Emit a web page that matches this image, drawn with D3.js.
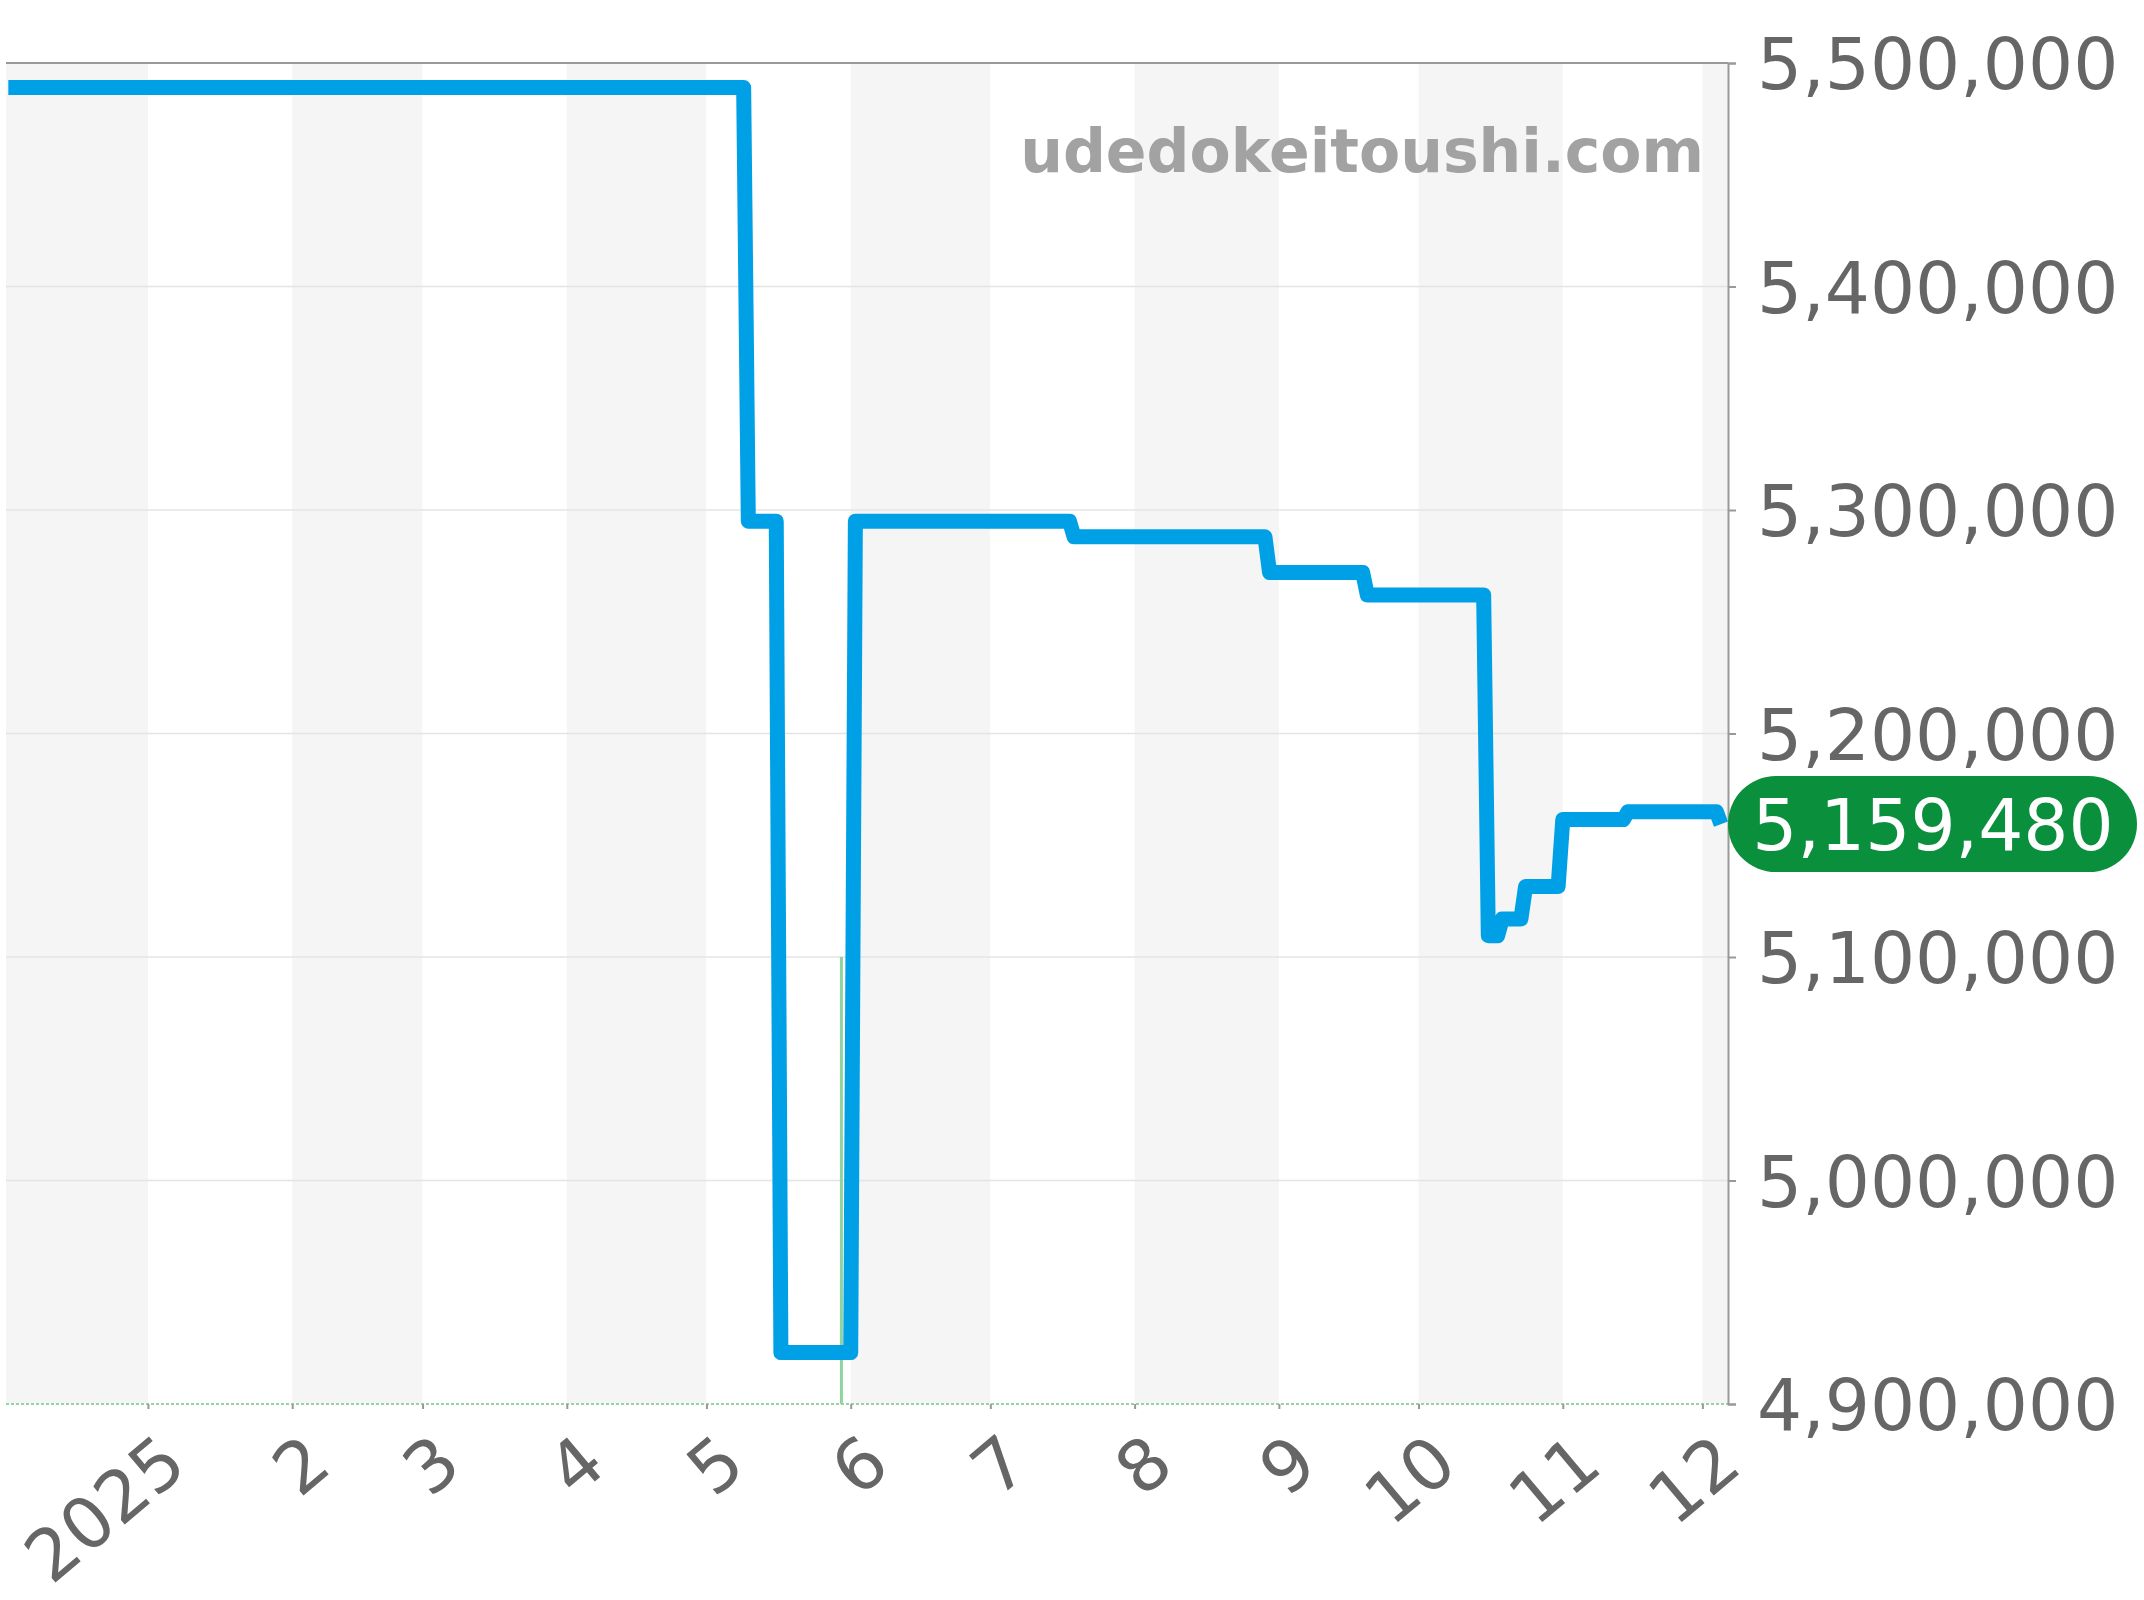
<!DOCTYPE html>
<html>
<head>
<meta charset="utf-8">
<script src="https://cdn.jsdelivr.net/npm/d3@7"></script>
<style>
  body { margin: 0; background: #fff; }
  svg { display: block; font-family: "DejaVu Sans", sans-serif; }
</style>
</head>
<body>
<svg width="2144" height="1600"></svg>
<script>
// price change points (date, yen)
var priceDates = [
    "2024-12-02", "2025-05-09", "2025-05-10", "2025-05-16", "2025-05-17",
    "2025-06-01", "2025-06-02", "2025-07-18", "2025-07-19", "2025-08-29",
    "2025-08-30", "2025-09-19", "2025-09-20", "2025-10-15", "2025-10-16",
    "2025-10-18", "2025-10-19", "2025-10-23", "2025-10-24", "2025-10-31",
    "2025-11-01", "2025-11-14", "2025-11-15", "2025-12-04", "2025-12-05"
];
var priceValues = [
    5489000, 5489000, 5295000, 5295000, 4923000,
    4923000, 5295000, 5295000, 5288000, 5288000,
    5272000, 5272000, 5262000, 5262000, 5109500,
    5109500, 5117000, 5117000, 5131500, 5131500,
    5161500, 5161500, 5165000, 5165000, 5159480
];
// green series: one spike, rest sits on the floor
var greenSpikeDate = "2025-05-30";
var greenSpikeValue = 5100000;

var yTicks = [4900000, 5000000, 5100000, 5200000, 5300000, 5400000, 5500000];
var xDomain = ["2024-12-01T12:00", "2025-12-06T12:00"];
var yDomain = [4900000, 5500000];
var watermark = "udedokeitoushi.com";

var parse = function(s) { return new Date(s.length > 10 ? s : s + "T00:00"); };

var margin = {left: 6, right: 1728, top: 63, bottom: 1404};
var svg = d3.select("svg");

var x = d3.scaleTime()
    .domain(xDomain.map(parse))
    .range([margin.left, margin.right]);
var y = d3.scaleLinear()
    .domain(yDomain)
    .range([margin.bottom, margin.top]);

var FONT = 71;

svg.append("rect").attr("width", 2144).attr("height", 1600).attr("fill", "#fff");

// month bands, every other month shaded
var months = d3.timeMonth.range(d3.timeMonth.floor(x.domain()[0]), x.domain()[1]);
svg.append("g").selectAll("rect")
    .data(months)
  .enter().append("rect")
    .attr("x", function(d) { return Math.max(margin.left, x(d)); })
    .attr("width", function(d) {
        var a = Math.max(margin.left, x(d));
        var b = Math.min(margin.right, x(d3.timeMonth.offset(d, 1)));
        return b - a;
    })
    .attr("y", margin.top)
    .attr("height", margin.bottom - margin.top)
    .attr("fill", function(d, i) { return i % 2 == 0 ? "#f5f5f5" : "#fff"; });

// horizontal grid
svg.append("g").selectAll("line")
    .data(yTicks.slice(1, -1))
  .enter().append("line")
    .attr("x1", margin.left).attr("x2", margin.right)
    .attr("y1", function(d) { return y(d); })
    .attr("y2", function(d) { return y(d); })
    .attr("stroke", "#e4e4e4")
    .attr("stroke-width", 1.4);

// top border
svg.append("line")
    .attr("x1", margin.left).attr("x2", margin.right)
    .attr("y1", margin.top).attr("y2", margin.top)
    .attr("stroke", "#999").attr("stroke-width", 2);

// watermark
svg.append("text")
    .attr("x", 1704)
    .attr("y", 172)
    .attr("text-anchor", "end")
    .attr("font-size", 60)
    .attr("font-weight", "bold")
    .attr("fill", "#a2a2a2")
    .text(watermark);

// green series: floor line + spike
svg.append("line")
    .attr("x1", margin.left).attr("x2", margin.right)
    .attr("y1", y(yDomain[0]) ).attr("y2", y(yDomain[0]))
    .attr("stroke", "#94d6a2")
    .attr("stroke-width", 2)
    .attr("stroke-dasharray", "3,2");
svg.append("line")
    .attr("x1", x(parse(greenSpikeDate))).attr("x2", x(parse(greenSpikeDate)))
    .attr("y1", y(greenSpikeValue)).attr("y2", y(yDomain[0]))
    .attr("stroke", "#8fd39e")
    .attr("stroke-width", 3);

// price line
var data = priceDates.map(function(d, i) { return {date: parse(d), value: priceValues[i]}; });
var line = d3.line()
    .x(function(d) { return x(d.date); })
    .y(function(d) { return y(d.value); });
svg.append("path")
    .datum(data)
    .attr("d", line)
    .attr("fill", "none")
    .attr("stroke", "#00a0e6")
    .attr("stroke-width", 15)
    .attr("stroke-linejoin", "round")
    .attr("stroke-linecap", "butt");

// right axis
var yAxis = d3.axisRight(y)
    .tickValues(yTicks)
    .tickSize(8)
    .tickPadding(21)
    .tickFormat(d3.format(","));
var gy = svg.append("g")
    .attr("transform", "translate(" + margin.right + ",0)")
    .call(yAxis);
gy.select(".domain").attr("stroke", "#999").attr("stroke-width", 2);
gy.selectAll(".tick line").attr("stroke", "#999").attr("stroke-width", 2);
gy.selectAll(".tick text")
    .attr("font-family", "DejaVu Sans")
    .attr("font-size", FONT)
    .attr("fill", "#666")
    .attr("dy", "0.36em");

// bottom axis (month ticks)
var tickDates = d3.timeMonth.range(parse("2025-01-01"), x.domain()[1]);
var xAxis = d3.axisBottom(x)
    .tickValues(tickDates)
    .tickSize(5)
    .tickFormat(function(d) { return d.getMonth() == 0 ? d.getFullYear() : d.getMonth() + 1; });
var gx = svg.append("g")
    .attr("transform", "translate(0," + margin.bottom + ")")
    .call(xAxis);
gx.select(".domain").remove();
gx.selectAll(".tick line").attr("stroke", "#999").attr("stroke-width", 2);
gx.selectAll(".tick text")
    .attr("font-family", "DejaVu Sans")
    .attr("font-size", FONT)
    .attr("fill", "#666")
    .attr("text-anchor", "end")
    .attr("x", 0).attr("y", 0)
    .attr("dy", "0.36em")
    .attr("transform", "translate(25,46) rotate(-40)");

// last value badge
var last = data[data.length - 1];
var badge = svg.append("g").attr("transform", "translate(" + margin.right + "," + y(last.value) + ")");
badge.append("rect")
    .attr("x", 0).attr("y", -48)
    .attr("width", 409).attr("height", 96)
    .attr("rx", 48)
    .attr("fill", "#0a8f3c");
badge.append("text")
    .attr("x", 205)
    .attr("dy", "0.36em")
    .attr("text-anchor", "middle")
    .attr("font-size", FONT)
    .attr("fill", "#fff")
    .text(d3.format(",")(last.value));
</script>
</body>
</html>
